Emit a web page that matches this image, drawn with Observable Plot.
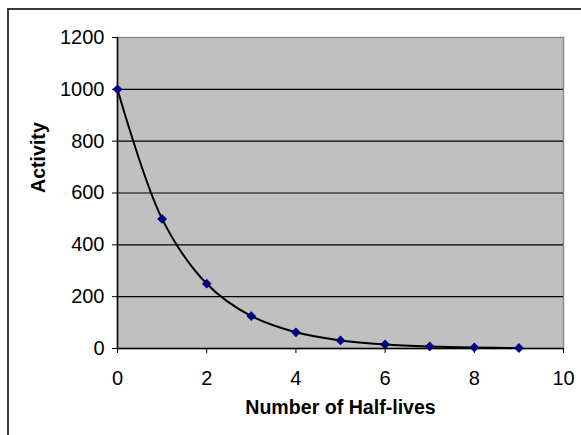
<!DOCTYPE html>
<html>
<head>
<meta charset="utf-8">
<script src="https://cdn.jsdelivr.net/npm/d3@7"></script>
<script src="https://cdn.jsdelivr.net/npm/@observablehq/plot@0.6"></script>
<style>
  html, body { margin: 0; padding: 0; background: #fff; overflow: hidden; }
  #wrap { position: relative; width: 581px; height: 435px; }
  #border { position: absolute; left: 7px; top: 8px; width: 700px; height: 700px; border: 2px solid #3a3a3a; box-sizing: border-box; pointer-events: none; }
</style>
</head>
<body>
<div id="wrap"><div id="border"></div></div>
<script>
const halfLives = [0, 1, 2, 3, 4, 5, 6, 7, 8, 9];
const activity = [1000, 500, 250, 125, 62.5, 31.25, 15.625, 7.8125, 3.90625, 1.953125];
const xTicks = [0, 2, 4, 6, 8, 10];
const yTicks = [0, 200, 400, 600, 800, 1000, 1200];
const gridValues = [200, 400, 600, 800, 1000];
const xTitle = "Number of Half-lives";
const yTitle = "Activity";

const data = halfLives.map((h, i) => ({h, a: activity[i]}));
const font = "'Liberation Sans', Arial, sans-serif";

const chart = Plot.plot({
  width: 581,
  height: 435,
  marginLeft: 117,
  marginRight: 18,
  marginTop: 37,
  marginBottom: 87,
  style: {fontFamily: font, fontSize: "20px", color: "#000", background: "transparent", overflow: "visible"},
  x: {domain: [0, 10]},
  y: {domain: [0, 1200]},
  marks: [
    Plot.frame({fill: "#c0c0c0", stroke: "#8a8a8a", strokeWidth: 1.5}),
    Plot.ruleY(gridValues, {stroke: "#000", strokeWidth: 1.2}),
    Plot.axisX({ticks: xTicks, tickFormat: d3.format("d"), tickSize: 5, tickPadding: 17, label: null, fontSize: 20, stroke: "#000"}),
    Plot.axisY({ticks: yTicks, tickFormat: d3.format("d"), tickSize: 5, tickPadding: 8, label: null, fontSize: 20, stroke: "#000"}),
    Plot.ruleX([0], {stroke: "#000", strokeWidth: 1.5}),
    Plot.ruleY([0], {stroke: "#000", strokeWidth: 1.5}),
    Plot.line(data, {x: "h", y: "a", curve: "catmull-rom", stroke: "#000", strokeWidth: 2}),
    Plot.dot(data, {x: "h", y: "a", symbol: "diamond2", r: 4.4, fill: "#000080", stroke: "none"}),
    Plot.text([xTitle], {text: d => d, frameAnchor: "bottom", dy: 65.5, fontWeight: "bold", fontSize: 19.6, fill: "#000"}),
    Plot.text([yTitle], {text: d => d, frameAnchor: "left", dx: -79, rotate: -90, fontWeight: "bold", fontSize: 19.6, fill: "#000"})
  ]
});
document.getElementById("wrap").prepend(chart);
</script>
</body>
</html>
